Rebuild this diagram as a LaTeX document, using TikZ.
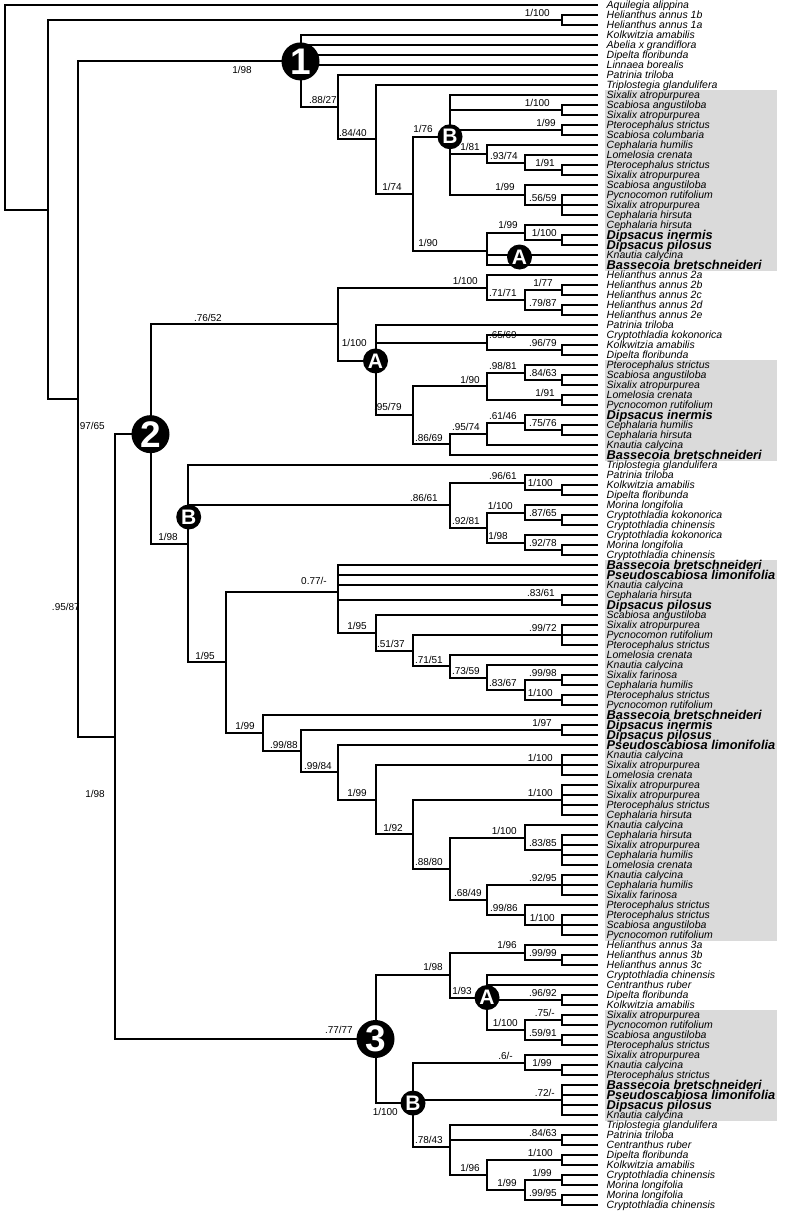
\documentclass[tikz,border=0pt]{standalone}
\usepackage{fontspec}
\newfontfamily\lsans{Liberation Sans}
\newcommand\leafat[3]{\coordinate (E#1) at (598,{5+10*#1});\node[#2] (L#1) at (606.5,{5+10*#1}) {#3};}
\newcommand\edgs[2]{\foreach \ch in {#2} {\draw[br] (#1) |- (\ch);}}
\newcommand\svl[4]{\node[sup] (#1) at (#2,#3) {#4};}
\begin{document}
\begin{tikzpicture}[x=1pt,y=-1pt,
 br/.style={line width=2pt},
 leaf/.style={anchor=west, inner sep=0pt, font=\lsans\itshape\fontsize{10.5}{10.5}\selectfont, text height=7.5pt, text depth=0pt},
 bleaf/.style={anchor=west, inner sep=0pt, font=\lsans\bfseries\itshape\fontsize{12.8}{12.8}\selectfont, text height=9pt, text depth=0pt},
 sup/.style={anchor=south east, inner sep=0pt, font=\lsans\fontsize{10}{10}\selectfont, text height=7.2pt, text depth=0pt},
 bigc/.style={circle, fill=black, minimum size=38pt, inner sep=0pt, text=white, font=\lsans\bfseries\fontsize{37}{37}\selectfont},
 smc/.style={circle, fill=black, minimum size=25pt, inner sep=0pt, text=white, font=\lsans\bfseries\fontsize{21}{21}\selectfont},
 graybox/.style={fill={rgb,255:red,218;green,218;blue,218}, draw=none}]
\useasboundingbox (0,0) rectangle (785,1212);
\fill[graybox] (605,90) rectangle (777,271);
\fill[graybox] (605,360) rectangle (777,461);
\fill[graybox] (605,560) rectangle (777,941);
\fill[graybox] (605,1010) rectangle (777,1121);
% leaves
\leafat{0}{leaf}{Aquilegia alippina}
\leafat{1}{leaf}{Helianthus annus 1b}
\leafat{2}{leaf}{Helianthus annus 1a}
\leafat{3}{leaf}{Kolkwitzia amabilis}
\leafat{4}{leaf}{Abelia x grandiflora}
\leafat{5}{leaf}{Dipelta floribunda}
\leafat{6}{leaf}{Linnaea borealis}
\leafat{7}{leaf}{Patrinia triloba}
\leafat{8}{leaf}{Triplostegia glandulifera}
\leafat{9}{leaf}{Sixalix atropurpurea}
\leafat{10}{leaf}{Scabiosa angustiloba}
\leafat{11}{leaf}{Sixalix atropurpurea}
\leafat{12}{leaf}{Pterocephalus strictus}
\leafat{13}{leaf}{Scabiosa columbaria}
\leafat{14}{leaf}{Cephalaria humilis}
\leafat{15}{leaf}{Lomelosia crenata}
\leafat{16}{leaf}{Pterocephalus strictus}
\leafat{17}{leaf}{Sixalix atropurpurea}
\leafat{18}{leaf}{Scabiosa angustiloba}
\leafat{19}{leaf}{Pycnocomon rutifolium}
\leafat{20}{leaf}{Sixalix atropurpurea}
\leafat{21}{leaf}{Cephalaria hirsuta}
\leafat{22}{leaf}{Cephalaria hirsuta}
\leafat{23}{bleaf}{Dipsacus inermis}
\leafat{24}{bleaf}{Dipsacus pilosus}
\leafat{25}{leaf}{Knautia calycina}
\leafat{26}{bleaf}{Bassecoia bretschneideri}
\leafat{27}{leaf}{Helianthus annus 2a}
\leafat{28}{leaf}{Helianthus annus 2b}
\leafat{29}{leaf}{Helianthus annus 2c}
\leafat{30}{leaf}{Helianthus annus 2d}
\leafat{31}{leaf}{Helianthus annus 2e}
\leafat{32}{leaf}{Patrinia triloba}
\leafat{33}{leaf}{Cryptothladia kokonorica}
\leafat{34}{leaf}{Kolkwitzia amabilis}
\leafat{35}{leaf}{Dipelta floribunda}
\leafat{36}{leaf}{Pterocephalus strictus}
\leafat{37}{leaf}{Scabiosa angustiloba}
\leafat{38}{leaf}{Sixalix atropurpurea}
\leafat{39}{leaf}{Lomelosia crenata}
\leafat{40}{leaf}{Pycnocomon rutifolium}
\leafat{41}{bleaf}{Dipsacus inermis}
\leafat{42}{leaf}{Cephalaria humilis}
\leafat{43}{leaf}{Cephalaria hirsuta}
\leafat{44}{leaf}{Knautia calycina}
\leafat{45}{bleaf}{Bassecoia bretschneideri}
\leafat{46}{leaf}{Triplostegia glandulifera}
\leafat{47}{leaf}{Patrinia triloba}
\leafat{48}{leaf}{Kolkwitzia amabilis}
\leafat{49}{leaf}{Dipelta floribunda}
\leafat{50}{leaf}{Morina longifolia}
\leafat{51}{leaf}{Cryptothladia kokonorica}
\leafat{52}{leaf}{Cryptothladia chinensis}
\leafat{53}{leaf}{Cryptothladia kokonorica}
\leafat{54}{leaf}{Morina longifolia}
\leafat{55}{leaf}{Cryptothladia chinensis}
\leafat{56}{bleaf}{Bassecoia bretschneideri}
\leafat{57}{bleaf}{Pseudoscabiosa limonifolia}
\leafat{58}{leaf}{Knautia calycina}
\leafat{59}{leaf}{Cephalaria hirsuta}
\leafat{60}{bleaf}{Dipsacus pilosus}
\leafat{61}{leaf}{Scabiosa angustiloba}
\leafat{62}{leaf}{Sixalix atropurpurea}
\leafat{63}{leaf}{Pycnocomon rutifolium}
\leafat{64}{leaf}{Pterocephalus strictus}
\leafat{65}{leaf}{Lomelosia crenata}
\leafat{66}{leaf}{Knautia calycina}
\leafat{67}{leaf}{Sixalix farinosa}
\leafat{68}{leaf}{Cephalaria humilis}
\leafat{69}{leaf}{Pterocephalus strictus}
\leafat{70}{leaf}{Pycnocomon rutifolium}
\leafat{71}{bleaf}{Bassecoia bretschneideri}
\leafat{72}{bleaf}{Dipsacus inermis}
\leafat{73}{bleaf}{Dipsacus pilosus}
\leafat{74}{bleaf}{Pseudoscabiosa limonifolia}
\leafat{75}{leaf}{Knautia calycina}
\leafat{76}{leaf}{Sixalix atropurpurea}
\leafat{77}{leaf}{Lomelosia crenata}
\leafat{78}{leaf}{Sixalix atropurpurea}
\leafat{79}{leaf}{Sixalix atropurpurea}
\leafat{80}{leaf}{Pterocephalus strictus}
\leafat{81}{leaf}{Cephalaria hirsuta}
\leafat{82}{leaf}{Knautia calycina}
\leafat{83}{leaf}{Cephalaria hirsuta}
\leafat{84}{leaf}{Sixalix atropurpurea}
\leafat{85}{leaf}{Cephalaria humilis}
\leafat{86}{leaf}{Lomelosia crenata}
\leafat{87}{leaf}{Knautia calycina}
\leafat{88}{leaf}{Cephalaria humilis}
\leafat{89}{leaf}{Sixalix farinosa}
\leafat{90}{leaf}{Pterocephalus strictus}
\leafat{91}{leaf}{Pterocephalus strictus}
\leafat{92}{leaf}{Scabiosa angustiloba}
\leafat{93}{leaf}{Pycnocomon rutifolium}
\leafat{94}{leaf}{Helianthus annus 3a}
\leafat{95}{leaf}{Helianthus annus 3b}
\leafat{96}{leaf}{Helianthus annus 3c}
\leafat{97}{leaf}{Cryptothladia chinensis}
\leafat{98}{leaf}{Centranthus ruber}
\leafat{99}{leaf}{Dipelta floribunda}
\leafat{100}{leaf}{Kolkwitzia amabilis}
\leafat{101}{leaf}{Sixalix atropurpurea}
\leafat{102}{leaf}{Pycnocomon rutifolium}
\leafat{103}{leaf}{Scabiosa angustiloba}
\leafat{104}{leaf}{Pterocephalus strictus}
\leafat{105}{leaf}{Sixalix atropurpurea}
\leafat{106}{leaf}{Knautia calycina}
\leafat{107}{leaf}{Pterocephalus strictus}
\leafat{108}{bleaf}{Bassecoia bretschneideri}
\leafat{109}{bleaf}{Pseudoscabiosa limonifolia}
\leafat{110}{bleaf}{Dipsacus pilosus}
\leafat{111}{leaf}{Knautia calycina}
\leafat{112}{leaf}{Triplostegia glandulifera}
\leafat{113}{leaf}{Patrinia triloba}
\leafat{114}{leaf}{Centranthus ruber}
\leafat{115}{leaf}{Dipelta floribunda}
\leafat{116}{leaf}{Kolkwitzia amabilis}
\leafat{117}{leaf}{Cryptothladia chinensis}
\leafat{118}{leaf}{Morina longifolia}
\leafat{119}{leaf}{Morina longifolia}
\leafat{120}{leaf}{Cryptothladia chinensis}
% internal nodes
\coordinate (R) at (5,107.25);
\coordinate (X) at (48,209.5);
\coordinate (h1) at (562,20);
\coordinate (Y) at (78,399);
\coordinate (N1) at (300.5,61.44);
\coordinate (V) at (115,736.6);
\coordinate (N2) at (150.5,434.16);
\coordinate (N3) at (375.5,1039);
\coordinate (n88) at (338,107.2);
\coordinate (n84) at (375.5,139.4);
\coordinate (n174) at (413,193.8);
\coordinate (nB1) at (450,136.75);
\coordinate (n190) at (487,250.83);
\coordinate (m1) at (562,110);
\coordinate (m2) at (562,130);
\coordinate (m3) at (487,153.75);
\coordinate (m4) at (524.5,162.5);
\coordinate (m7) at (562,170);
\coordinate (m5) at (524.5,195);
\coordinate (m6) at (562,205);
\coordinate (m8) at (524.5,232.5);
\coordinate (m9) at (562,240);
\coordinate (n76) at (338,324.22);
\coordinate (n2a) at (487,287.5);
\coordinate (n71) at (524.5,300);
\coordinate (n177) at (562,290);
\coordinate (n79) at (562,310);
\coordinate (nA2) at (375.5,360.94);
\coordinate (n65) at (487,342.5);
\coordinate (n96) at (562,350);
\coordinate (n95) at (413,415.31);
\coordinate (n190b) at (487,386.25);
\coordinate (n98) at (524.5,372.5);
\coordinate (n84b) at (562,380);
\coordinate (n191) at (562,400);
\coordinate (n86) at (450,444.375);
\coordinate (n9574) at (487,433.75);
\coordinate (n61) at (524.5,422.5);
\coordinate (n75) at (562,430);
\coordinate (nB2) at (188,544.11);
\coordinate (n8661) at (450,505);
\coordinate (n9661) at (524.5,482.5);
\coordinate (n1100c) at (562,490);
\coordinate (n92) at (487,527.5);
\coordinate (n1100d) at (524.5,512.5);
\coordinate (n87) at (562,520);
\coordinate (n198) at (524.5,542.5);
\coordinate (n9278) at (562,550);
\coordinate (n195o) at (226,662.33);
\coordinate (n077) at (338,591.56);
\coordinate (n83) at (562,600);
\coordinate (n195) at (375.5,632.8);
\coordinate (n51) at (413,650.6);
\coordinate (n9972) at (562,635);
\coordinate (n7151) at (450,666.25);
\coordinate (n7359) at (487,677.5);
\coordinate (n8367) at (524.5,690);
\coordinate (n9998) at (562,680);
\coordinate (n1100e) at (562,700);
\coordinate (n199o) at (263.3,733.1);
\coordinate (n9988) at (300.7,751.2);
\coordinate (n197) at (562,730);
\coordinate (n9984) at (338,772.35);
\coordinate (n199i) at (375.5,799.7);
\coordinate (n1100f) at (562,765);
\coordinate (n192) at (413,834.4);
\coordinate (n1100g) at (562,800);
\coordinate (n8880) at (450,868.75);
\coordinate (n1100h) at (524.5,837.5);
\coordinate (n8385) at (562,850);
\coordinate (n6849) at (487,900);
\coordinate (n9295) at (562,885);
\coordinate (n9986) at (524.5,915);
\coordinate (n1100i) at (562,925);
\coordinate (n198c) at (450,975);
\coordinate (n196) at (524.5,952.5);
\coordinate (n9999) at (562,960);
\coordinate (nA3) at (487,997.5);
\coordinate (n9692) at (562,1000);
\coordinate (n1100j) at (524.5,1030);
\coordinate (n75m) at (562,1020);
\coordinate (n5991) at (562,1040);
\coordinate (nB3) at (413,1103.06);
\coordinate (n6m) at (524.5,1062.5);
\coordinate (n199c) at (562,1070);
\coordinate (n72m) at (562,1100);
\coordinate (n7843) at (450,1146.67);
\coordinate (n8463) at (562,1140);
\coordinate (n196c) at (487,1175);
\coordinate (n1100k) at (562,1160);
\coordinate (n199d) at (524.5,1190);
\coordinate (n199e) at (562,1180);
\coordinate (n9995) at (562,1200);
% edges
\edgs{R}{E0,X}
\edgs{X}{h1,Y}
\edgs{h1}{E1,E2}
\edgs{Y}{N1,V}
\edgs{N1}{E3,E4,E5,E6,n88}
\edgs{n88}{E7,n84}
\edgs{n84}{E8,n174}
\edgs{n174}{nB1,n190}
\edgs{nB1}{E9,m1,m2,m3,m5}
\edgs{m1}{E10,E11}
\edgs{m2}{E12,E13}
\edgs{m3}{E14,m4}
\edgs{m4}{E15,m7}
\edgs{m7}{E16,E17}
\edgs{m5}{E18,m6}
\edgs{m6}{E19,E20,E21}
\edgs{n190}{m8,E25,E26}
\edgs{m8}{E22,m9}
\edgs{m9}{E23,E24}
\edgs{V}{N2,N3}
\edgs{N2}{n76,nB2}
\edgs{n76}{n2a,nA2}
\edgs{n2a}{E27,n71}
\edgs{n71}{n177,n79}
\edgs{n177}{E28,E29}
\edgs{n79}{E30,E31}
\edgs{nA2}{E32,n65,n95}
\edgs{n65}{E33,n96}
\edgs{n96}{E34,E35}
\edgs{n95}{n190b,n86}
\edgs{n190b}{n98,n191}
\edgs{n98}{E36,n84b}
\edgs{n84b}{E37,E38}
\edgs{n191}{E39,E40}
\edgs{n86}{n9574,E45}
\edgs{n9574}{n61,E44}
\edgs{n61}{E41,n75}
\edgs{n75}{E42,E43}
\edgs{nB2}{E46,n8661,n195o}
\edgs{n8661}{n9661,n92}
\edgs{n9661}{E47,n1100c}
\edgs{n1100c}{E48,E49}
\edgs{n92}{n1100d,n198}
\edgs{n1100d}{E50,n87}
\edgs{n87}{E51,E52}
\edgs{n198}{E53,n9278}
\edgs{n9278}{E54,E55}
\edgs{n195o}{n077,n199o}
\edgs{n077}{E56,E57,E58,n83,n195}
\edgs{n83}{E59,E60}
\edgs{n195}{E61,n51}
\edgs{n51}{n9972,n7151}
\edgs{n9972}{E62,E63,E64}
\edgs{n7151}{E65,n7359}
\edgs{n7359}{E66,n8367}
\edgs{n8367}{n9998,n1100e}
\edgs{n9998}{E67,E68}
\edgs{n1100e}{E69,E70}
\edgs{n199o}{E71,n9988}
\edgs{n9988}{n197,n9984}
\edgs{n197}{E72,E73}
\edgs{n9984}{E74,n199i}
\edgs{n199i}{n1100f,n192}
\edgs{n1100f}{E75,E76,E77}
\edgs{n192}{n1100g,n8880}
\edgs{n1100g}{E78,E79,E80,E81}
\edgs{n8880}{n1100h,n6849}
\edgs{n1100h}{E82,n8385}
\edgs{n8385}{E83,E84,E85,E86}
\edgs{n6849}{n9295,n9986}
\edgs{n9295}{E87,E88,E89}
\edgs{n9986}{E90,n1100i}
\edgs{n1100i}{E91,E92,E93}
\edgs{N3}{n198c,nB3}
\edgs{n198c}{n196,nA3}
\edgs{n196}{E94,n9999}
\edgs{n9999}{E95,E96}
\edgs{nA3}{E97,E98,n9692,n1100j}
\edgs{n9692}{E99,E100}
\edgs{n1100j}{n75m,n5991}
\edgs{n75m}{E101,E102}
\edgs{n5991}{E103,E104}
\edgs{nB3}{n6m,n72m,n7843}
\edgs{n6m}{E105,n199c}
\edgs{n199c}{E106,E107}
\edgs{n72m}{E108,E109,E110,E111}
\edgs{n7843}{E112,n8463,n196c}
\edgs{n8463}{E113,E114}
\edgs{n196c}{n1100k,n199d}
\edgs{n1100k}{E115,E116}
\edgs{n199d}{n199e,n9995}
\edgs{n199e}{E117,E118}
\edgs{n9995}{E119,E120}
% circles
\node[bigc] (C1) at (N1) {1};
\node[bigc] (C2) at (N2) {2};
\node[bigc] (C3) at (N3) {3};
\node[smc] (B1) at (nB1) {B};
\node[smc] (A1) at (519.5,257) {A};
\node[smc] (A2) at (nA2) {A};
\node[smc] (B2) at (188.7,517) {B};
\node[smc] (A3) at (nA3) {A};
\node[smc] (B3) at (nB3) {B};
% support values
\svl{S1}{550}{17}{1/100}
\node[sup, anchor=north east] (S2) at (252,66) {1/98};
\svl{S3}{337}{104.2}{.88/27}
\svl{S4}{367}{136.4}{.84/40}
\svl{S5}{402}{190.8}{1/74}
\svl{S6}{433}{133}{1/76}
\svl{S7}{550}{107}{1/100}
\svl{S8}{556}{127}{1/99}
\svl{S9}{480}{150.7}{1/81}
\svl{S10}{518}{160}{.93/74}
\svl{S11}{555}{167}{1/91}
\svl{S12}{515}{191}{1/99}
\svl{S13}{557}{202}{.56/59}
\svl{S14}{438}{247}{1/90}
\svl{S15}{518}{229}{1/99}
\svl{S16}{557}{237}{1/100}
\svl{S17}{222}{321.2}{.76/52}
\svl{S18}{478}{284.5}{1/100}
\svl{S19}{517}{297}{.71/71}
\svl{S20}{553}{287}{1/77}
\svl{S21}{557}{307}{.79/87}
\svl{S22}{367}{347}{1/100}
\svl{S23}{517}{339}{.65/69}
\svl{S24}{557}{347}{.96/79}
\svl{S25}{402}{411}{.95/79}
\svl{S26}{480}{383.2}{1/90}
\svl{S27}{517}{369.5}{.98/81}
\svl{S28}{557}{377}{.84/63}
\svl{S29}{555}{397}{1/91}
\svl{S30}{443}{441.4}{.86/69}
\svl{S31}{480}{430.7}{.95/74}
\svl{S32}{517}{419.5}{.61/46}
\svl{S33}{557}{427}{.75/76}
\svl{S34}{105}{430}{.97/65}
\svl{S35}{178}{541}{1/98}
\svl{S36}{438}{502}{.86/61}
\svl{S37}{517}{479.5}{.96/61}
\svl{S38}{553}{487}{1/100}
\svl{S39}{480}{524.5}{.92/81}
\svl{S40}{513}{509.5}{1/100}
\svl{S41}{557}{517}{.87/65}
\svl{S42}{508}{539.5}{1/98}
\svl{S43}{557}{547}{.92/78}
\svl{S44}{215}{659.3}{1/95}
\svl{S45}{327}{585}{0.77/-}
\svl{S46}{555}{597}{.83/61}
\svl{S47}{367}{629.8}{1/95}
\svl{S48}{405}{647.6}{.51/37}
\svl{S49}{557}{632}{.99/72}
\svl{S50}{443}{663.2}{.71/51}
\svl{S51}{480}{674.5}{.73/59}
\svl{S52}{517}{687}{.83/67}
\svl{S53}{557}{677}{.99/98}
\svl{S54}{553}{697}{1/100}
\svl{S55}{255}{730}{1/99}
\svl{S56}{298}{748.2}{.99/88}
\svl{S57}{552}{727}{1/97}
\svl{S58}{332}{769.3}{.99/84}
\svl{S59}{367}{796.7}{1/99}
\svl{S60}{553}{762}{1/100}
\svl{S61}{403}{831.4}{1/92}
\svl{S62}{553}{797}{1/100}
\svl{S63}{443}{865.7}{.88/80}
\svl{S64}{517}{834.5}{1/100}
\svl{S65}{557}{847}{.83/85}
\svl{S66}{482}{897}{.68/49}
\svl{S67}{557}{882}{.92/95}
\svl{S68}{518}{912}{.99/86}
\svl{S69}{555}{922}{1/100}
\svl{S70}{353}{1034}{.77/77}
\svl{S71}{443}{971}{1/98}
\svl{S72}{517}{949}{1/96}
\svl{S73}{557}{957}{.99/99}
\svl{S74}{472}{994.5}{1/93}
\svl{S75}{557}{997}{.96/92}
\svl{S76}{518}{1027}{1/100}
\svl{S77}{555}{1017}{.75/-}
\svl{S78}{557}{1037}{.59/91}
\node[sup, anchor=north east] (S79) at (398,1108.5) {1/100};
\svl{S80}{513}{1059.5}{.6/-}
\svl{S81}{552}{1067}{1/99}
\svl{S82}{555}{1097}{.72/-}
\svl{S83}{443}{1143.7}{.78/43}
\svl{S84}{557}{1137}{.84/63}
\svl{S85}{480}{1172}{1/96}
\svl{S86}{553}{1157}{1/100}
\svl{S87}{517}{1187}{1/99}
\svl{S88}{552}{1177}{1/99}
\svl{S89}{557}{1197}{.99/95}
\svl{S90}{80}{611}{.95/87}
\svl{S91}{105}{798}{1/98}
\end{tikzpicture}
\end{document}
